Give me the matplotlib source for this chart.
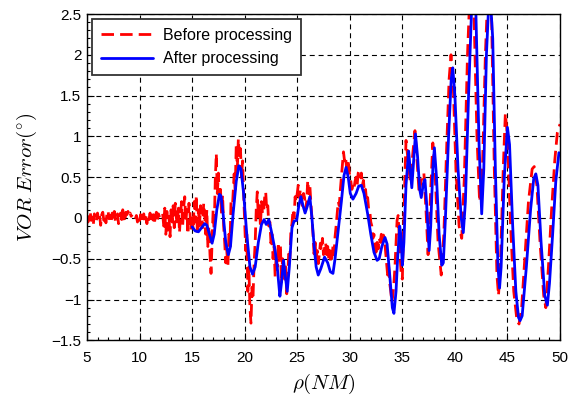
import numpy as np
import matplotlib
matplotlib.use("Agg")
import matplotlib.pyplot as plt
from matplotlib.ticker import MultipleLocator

# ---------------- data ----------------
# "Before processing": noisy part, sampled every 0.1 NM
red_seg1_start, red_seg1_vals = 5.0, [
    0.02, -0.05, 0.04, 0.08, -0.03, 0.01, -0.08, 0.05, 0.0, -0.04,
    0.06, -0.02, 0.03, -0.09, 0.04, 0.07, -0.03, 0.02, -0.06, 0.05,
    0.09, -0.01, 0.03, -0.05, 0.06, -0.02, 0.08, -0.04, 0.01, 0.05,
    -0.07, 0.03, 0.06, -0.02, 0.10, 0.02, -0.05, 0.07, 0.04, 0.08,
    0.03, 0.06, 0.02, 0.04]
red_seg2_start, red_seg2_vals = 9.6, [
    -0.01, 0.03, -0.05, 0.02, -0.03, 0.04, -0.06, 0.01, 0.05, -0.04,
    0.02, -0.07, 0.03, -0.02, 0.06, -0.05, 0.0, 0.04, -0.08, 0.02,
    0.07, -0.03, 0.05, 0.01]
red_seg3_start, red_seg3_vals = 12.2, [
    0.05, -0.10, 0.12, -0.20, 0.08, -0.15, 0.02, -0.23, 0.10, -0.05,
    0.15, -0.12, 0.18, 0.0, -0.08, 0.12, -0.18, 0.06, 0.20, -0.10,
    0.14, 0.26, -0.05, 0.10, -0.20, 0.18, 0.05, -0.15,
    # 15.0 ...
    0.05, -0.15, 0.20, -0.05, 0.28, -0.20, 0.10, -0.10, 0.15, 0.02,
    -0.12, 0.18, 0.05, -0.20, 0.10, -0.35, -0.10, -0.45, -0.68, -0.30,
    0.10, -0.15, 0.45, 0.79, 0.30, 0.55, 0.20, 0.35, 0.05, 0.28,
    -0.10, -0.30, -0.55, -0.40, -0.60, -0.20, -0.35, 0.20, 0.05, 0.30,
    0.54, 0.35, 0.90, 0.60, 0.97, 0.75, 0.85, 0.50, 0.70, 0.30,
    -0.05, -0.40, -0.20, -0.90, -0.60, -1.10, -1.29, -0.85, -0.95, -0.55,
    -0.30, 0.10, 0.32, 0.0, 0.15, -0.10, 0.20, 0.05, 0.06, 0.25,
    0.32, 0.10, 0.15, -0.10, -0.05, -0.31, -0.20, -0.50, -0.35, -0.72,
    -0.45, -0.60, -0.30, -0.55, -0.33, -0.80, -0.50, -0.64, -0.75, -0.60,
    -0.93, -0.70, -0.40, -0.50, -0.15, -0.07, 0.10, 0.0, 0.26, 0.20,
    0.30, 0.40, 0.25, 0.35, 0.20, 0.15, 0.30, 0.25, 0.10, 0.20,
    0.46, 0.30, 0.40, 0.18, 0.0, -0.20, -0.44, -0.30, -0.50, -0.40,
    -0.56, -0.45, -0.31, -0.40, -0.25, -0.45, -0.37, -0.30, -0.45, -0.35,
    -0.50, -0.40, -0.55, -0.48, -0.35, -0.45, -0.23, -0.10, 0.05, 0.20,
    0.15, 0.34, 0.50, 0.65, 0.81, 0.70, 0.75, 0.60, 0.70, 0.65,
    0.50, 0.45, 0.35, 0.40, 0.36, 0.45, 0.50, 0.40, 0.55, 0.58,
    0.50, 0.55, 0.40, 0.46, 0.30, 0.35, 0.20, 0.25, 0.10, 0.09,
    -0.05, -0.10, -0.25, -0.20, -0.35, -0.42, -0.30, -0.38, -0.25, -0.30,
    -0.20, -0.30, -0.21, -0.25, -0.40, -0.55, -0.70, -0.60, -0.80, -0.90,
    -1.03, -0.95, -0.80, -0.60, -0.30, -0.03, 0.03, -0.20, -0.50, -0.70]
# "Before processing": smooth part (35-50 NM)
red_x_tail = [35.0, 35.2, 35.35, 35.55, 35.75, 36.0, 36.2, 36.4, 36.6, 36.85,
              37.05, 37.25, 37.45, 37.65, 37.9, 38.1, 38.4, 38.7, 38.95, 39.2,
              39.45, 39.63, 39.85, 40.1, 40.4, 40.65, 40.9, 41.2, 41.5, 41.8,
              42.1, 42.35, 42.6, 42.9, 43.2, 43.5, 43.75, 44.0, 44.15, 44.35,
              44.6, 44.8, 45.0, 45.3, 45.6, 45.9, 46.1, 46.35, 46.7, 47.0,
              47.35, 47.55, 47.8, 48.1, 48.45, 48.65, 48.9, 49.2, 49.5, 49.75,
              50.0]
red_y_tail = [-0.75, 0.30, 0.95, 0.70, 0.45, 0.80, 1.07, 0.70, 0.30, 0.50,
              0.55, 0.10, -0.45, 0.20, 0.92, 0.60, -0.30, -0.70, -0.20, 0.80,
              1.70, 2.00, 1.60, 0.60, -0.10, -0.25, 0.50, 2.00, 3.00, 2.60,
              1.00, 0.20, 0.50, 2.00, 3.00, 2.40, 0.60, -0.70, -0.95, -0.50,
              0.60, 1.28, 1.00, -0.10, -0.90, -1.25, -1.30, -1.10, -0.40, 0.20,
              0.60, 0.63, 0.40, -0.30, -0.95, -1.10, -0.60, 0.10, 0.70, 1.05,
              1.15]

# "After processing"
blue_x = [15.0, 15.3, 15.6, 15.9, 16.2, 16.4, 16.65, 16.9, 17.1, 17.35,
          17.6, 17.75, 17.95, 18.2, 18.45, 18.65, 18.9, 19.2, 19.45, 19.65,
          19.9, 20.2, 20.5, 20.75, 21.0, 21.3, 21.6, 21.85, 22.05, 22.3,
          22.6, 22.9, 23.1, 23.35, 23.5, 23.7, 23.85, 24.05, 24.25, 24.5,
          24.7, 24.95, 25.15, 25.35, 25.55, 25.75, 25.95, 26.2, 26.4, 26.6,
          26.8, 27.0, 27.25, 27.6, 27.9, 28.15, 28.4, 28.6, 28.9, 29.2,
          29.45, 29.65, 29.85, 30.05, 30.3, 30.6, 30.85, 31.1, 31.35, 31.7,
          32.0, 32.3, 32.6, 32.8, 33.05, 33.35, 33.55, 33.8, 34.05, 34.2,
          34.4, 34.55, 34.75, 34.85, 35.0, 35.15, 35.35, 35.6, 35.75, 35.9,
          36.05, 36.25, 36.45, 36.65, 36.8, 37.0, 37.15, 37.3, 37.55, 37.7,
          37.9, 38.05, 38.25, 38.5, 38.75, 38.9, 39.1, 39.4, 39.65, 39.8,
          40.0, 40.3, 40.6, 40.8, 41.0, 41.3, 41.6, 41.75, 42.0, 42.3,
          42.55, 42.75, 43.0, 43.3, 43.6, 43.85, 44.1, 44.25, 44.4, 44.7,
          45.0, 45.2, 45.5, 45.8, 46.05, 46.2, 46.4, 46.8, 47.2, 47.5,
          47.7, 47.9, 48.2, 48.55, 48.8, 49.0, 49.3, 49.6, 49.9]
blue_y = [-0.11, -0.16, -0.17, -0.12, -0.07, -0.09, -0.20, -0.31, -0.20, 0.10,
          0.29, 0.27, 0.05, -0.30, -0.45, -0.35, 0.05, 0.45, 0.64, 0.60,
          0.30, -0.20, -0.60, -0.69, -0.60, -0.30, -0.08, -0.02, -0.08, -0.02,
          -0.20, -0.40, -0.60, -0.96, -0.80, -0.52, -0.70, -0.90, -0.60, -0.12,
          -0.04, -0.03, 0.15, 0.26, 0.15, 0.06, 0.14, 0.26, 0.0, -0.33,
          -0.60, -0.70, -0.62, -0.48, -0.55, -0.66, -0.68, -0.50, -0.15, 0.20,
          0.52, 0.62, 0.50, 0.30, 0.23, 0.30, 0.39, 0.40, 0.30, 0.05,
          -0.20, -0.42, -0.52, -0.50, -0.35, -0.24, -0.32, -0.70, -1.10, -1.17,
          -0.90, -0.50, -0.10, -0.20, -0.58, -0.30, 0.40, 0.82, 0.60, 0.37,
          0.65, 1.03, 0.75, 0.35, 0.25, 0.42, 0.47, 0.20, -0.40, -0.10,
          0.60, 0.86, 0.50, -0.20, -0.58, -0.55, 0.0, 1.00, 1.70, 1.84,
          1.50, 0.60, 0.0, -0.18, 0.20, 1.50, 2.60, 2.85, 2.50, 0.90,
          0.05, 0.60, 2.00, 2.85, 2.20, 0.60, -0.60, -0.86, -0.60, 0.50,
          1.11, 0.90, -0.10, -0.90, -1.22, -1.26, -1.20, -0.60, 0.10, 0.48,
          0.54, 0.40, -0.30, -0.95, -1.07, -0.80, -0.20, 0.45, 0.80]

x_ticks = [5, 10, 15, 20, 25, 30, 35, 40, 45, 50]
y_ticks = [-1.5, -1, -0.5, 0, 0.5, 1, 1.5, 2, 2.5]
y_tick_labels = ["\u22121.5", "\u22121", "\u22120.5", "0", "0.5", "1", "1.5", "2", "2.5"]

# ---------------- assemble red series ----------------
def seg(start, vals):
    xs = np.round(start + 0.1 * np.arange(len(vals)), 2)
    return list(xs), list(vals)

rx, ry = [], []
for s, v in [(red_seg1_start, red_seg1_vals), (red_seg2_start, red_seg2_vals),
             (red_seg3_start, red_seg3_vals)]:
    xs, ys = seg(s, v)
    if rx:
        rx.append(np.nan); ry.append(np.nan)
    rx += xs; ry += ys
rx += red_x_tail
ry += red_y_tail

# ---------------- plot ----------------
plt.rcParams['font.family'] = ['Liberation Sans', 'DejaVu Sans']
plt.rcParams['mathtext.fontset'] = 'cm'

fig = plt.figure(figsize=(5.68, 4.07), dpi=100)
ax = fig.add_axes([87 / 568, 1 - 340.3 / 407, 473 / 568, 326.3 / 407])

ax.plot(rx, ry, color='#ff0000', lw=2.0, dashes=(4.5, 2.2),
        label='Before processing', solid_joinstyle='round', dash_joinstyle='round')
ax.plot(blue_x, blue_y, color='#0000ff', lw=2.0, label='After processing',
        solid_joinstyle='round', solid_capstyle='round')

ax.set_xlim(5, 50)
ax.set_ylim(-1.5, 2.5)
ax.set_xticks(x_ticks)
ax.set_yticks(y_ticks)
ax.set_yticklabels(y_tick_labels)
ax.xaxis.set_minor_locator(MultipleLocator(1))
ax.yaxis.set_minor_locator(MultipleLocator(0.1))
ax.tick_params(which='both', direction='in', top=False, right=False,
               labelsize=11, width=0.8)
ax.tick_params(which='major', length=5)
ax.tick_params(which='minor', length=2.5)
ax.tick_params(axis='x', pad=8)
ax.tick_params(axis='y', pad=4)

ax.grid(True, which='major', color='black', linestyle=(0, (4.5, 3.5)), lw=0.8)
ax.set_axisbelow(True)
for sp in ax.spines.values():
    sp.set_linewidth(1.0)

ax.set_xlabel(r'$\rho(NM)$', fontsize=15, labelpad=5)
ax.set_ylabel(r'$VOR\ Error(^{\circ})$', fontsize=15, labelpad=9)

leg = ax.legend(loc='upper left', fontsize=11.5, fancybox=False, framealpha=1,
                edgecolor='#333333', handlelength=3.3, borderaxespad=0.3,
                borderpad=0.55, handletextpad=0.6, labelspacing=0.55)
leg.get_frame().set_linewidth(1.3)

fig.savefig('out.png', dpi=100)
